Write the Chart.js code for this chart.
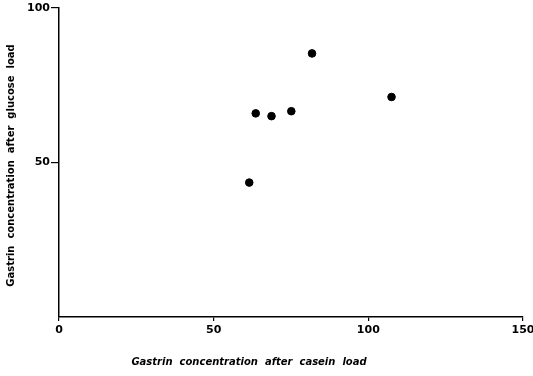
<!DOCTYPE html>
<html>
<head>
<meta charset="utf-8">
<script src="https://cdn.jsdelivr.net/npm/chart.js@4/dist/chart.umd.min.js"></script>
<style>
  html, body { margin: 0; padding: 0; background: #fff; }
  #wrap { width: 533px; height: 376px; }
</style>
</head>
<body>
<div id="wrap"><canvas id="chart" width="533" height="376"></canvas></div>
<script>
// Gastrin after casein load (x) vs after glucose load (y)
const caseinValues = [61.5, 63.6, 68.7, 75.1, 81.8, 107.5];
const glucoseValues = [43.5, 65.9, 65.0, 66.6, 85.3, 71.2];
const xTicks = [0, 50, 100, 150];
const yTicks = [50, 100];
const xTitle = 'Gastrin  concentration  after  casein  load';
const yTitle = 'Gastrin  concentration  after  glucose  load';

const points = caseinValues.map((x, i) => ({ x: x, y: glucoseValues[i] }));

// draw the axis titles where the original puts them
const axisTitles = {
    id: 'axisTitles',
    afterDraw(chart) {
        const ctx = chart.ctx;
        const area = chart.chartArea;
        ctx.save();
        ctx.fillStyle = '#000';
        ctx.textAlign = 'center';
        ctx.textBaseline = 'middle';
        ctx.font = 'italic bold 10px "DejaVu Sans"';
        ctx.fillText(xTitle, 249, 362);
        ctx.translate(11, (area.top + area.bottom) / 2 + 3);
        ctx.rotate(-Math.PI / 2);
        ctx.font = 'bold 10px "DejaVu Sans"';
        ctx.fillText(yTitle, 0, 0);
        ctx.restore();
    }
};

new Chart(document.getElementById('chart'), {
    type: 'scatter',
    data: {
        datasets: [{
            data: points,
            backgroundColor: '#000',
            borderColor: '#000',
            pointRadius: 3.8,
            pointHoverRadius: 3.8
        }]
    },
    options: {
        responsive: false,
        animation: false,
        layout: { padding: { top: 8, right: 10, left: 0, bottom: 0 } },
        plugins: {
            legend: { display: false },
            tooltip: { enabled: false }
        },
        scales: {
            x: {
                type: 'linear',
                min: 0,
                max: 150,
                afterBuildTicks: scale => { scale.ticks = xTicks.map(v => ({ value: v })); },
                afterFit: scale => {
                    scale.height = 59;
                    scale.paddingLeft = 0;
                    scale.paddingRight = 0;
                },
                border: { display: true, color: '#000', width: 1.5 },
                grid: { display: true, drawOnChartArea: false, drawTicks: true, tickLength: 4, color: '#000', lineWidth: 1.2 },
                ticks: {
                    color: '#000',
                    padding: 3,
                    maxRotation: 0,
                    font: { family: 'DejaVu Sans', size: 11, weight: 'bold' }
                }
            },
            y: {
                type: 'linear',
                min: 0,
                max: 100,
                afterBuildTicks: scale => { scale.ticks = yTicks.map(v => ({ value: v })); },
                afterFit: scale => {
                    scale.width = 59;
                    scale.paddingTop = 0;
                    scale.paddingBottom = 0;
                },
                border: { display: true, color: '#000', width: 1.5 },
                grid: { display: true, drawOnChartArea: false, drawTicks: true, tickLength: 8, color: '#000', lineWidth: 1.2 },
                ticks: {
                    color: '#000',
                    padding: 1,
                    font: { family: 'DejaVu Sans', size: 11, weight: 'bold' }
                }
            }
        }
    },
    plugins: [axisTitles]
});
</script>
</body>
</html>
